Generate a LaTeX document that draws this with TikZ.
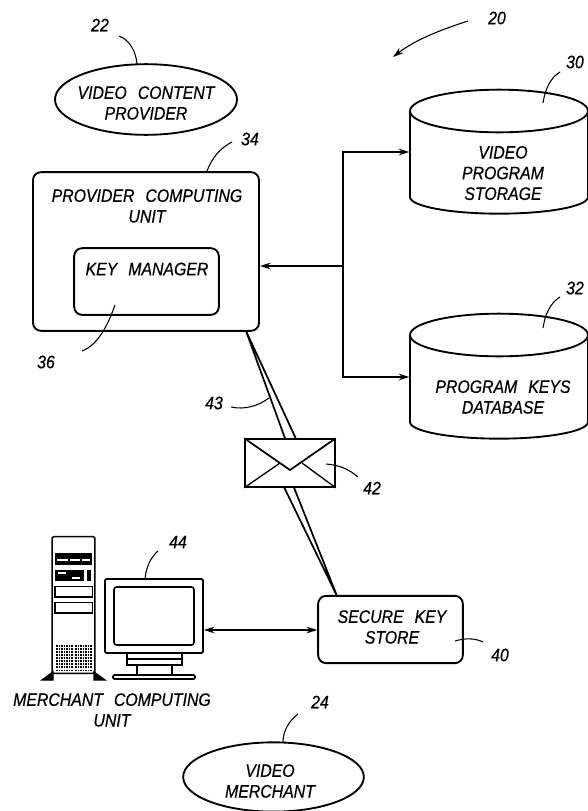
\documentclass[tikz,border=0pt]{standalone}
\usepackage{fontspec}
\setmainfont[FakeStretch=0.88,WordSpace=2.5,ItalicFeatures={FakeBold=0.6}]{Liberation Sans}
\usetikzlibrary{arrows.meta,shapes.geometric}

\begin{document}
\begin{tikzpicture}[x=0.75pt,y=-0.75pt,line width=1pt,>={Stealth[length=8pt,width=5pt]},
    every node/.style={font=\itshape\fontsize{13.5}{15.5}\selectfont,align=center,inner sep=0pt},
    unitbox/.style={draw,rounded corners=6pt,line width=1.4pt},
    oval/.style={draw,ellipse,line width=1.4pt},
    storearea/.style={minimum width=133.5pt,minimum height=60pt},
    drum/.style={line width=1.4pt},
    refnum/.style={font=\itshape\fontsize{13.5}{15.5}\selectfont},
    lead/.style={line width=0.8pt}]
  \useasboundingbox (0,0) rectangle (588,811);

  \node (provider) [oval,minimum width=136.5pt,minimum height=53pt] at (146,99.5) {};
  \node (providertext) at (146,103) {VIDEO CONTENT\\PROVIDER};
  \node (merchant) [oval,minimum width=135.5pt,minimum height=52pt] at (273.5,777) {};
  \node (merchanttext) at (270,781) {VIDEO\\MERCHANT};
  \node (punit) [unitbox,minimum width=169.5pt,minimum height=119pt] at (146,251.5) {};
  \node (punittext) at (147,206) {PROVIDER COMPUTING\\UNIT};
  \node (keyman) [unitbox,minimum width=108.5pt,minimum height=50pt] at (146.5,281.5) {};
  \node (keymantext) at (147,269) {KEY MANAGER};

  % the two drums
  \foreach \ytop/\ybot in {111/197,335/422} {
    \draw[drum] (499,\ytop) ellipse [x radius=66.75pt,y radius=16pt];
    \draw[drum] (410,\ytop) -- (410,\ybot) arc [start angle=180,end angle=360,x radius=66.75pt,y radius=12.5pt] -- (588,\ytop);
  }
  \node (vstore) [storearea] at (499,152) {};
  \node (vstoretext) at (503,173) {VIDEO\\PROGRAM\\STORAGE};
  \node (kstore) [storearea] at (499,377) {};
  \node (kstoretext) at (503,397) {PROGRAM KEYS\\DATABASE};

  \node (secure) [unitbox,minimum width=108.5pt,minimum height=50.5pt] at (390.5,629.5) {};
  \node (securetext) at (392,627) {SECURE KEY\\STORE};
  \node (munittext) at (112,710) {MERCHANT COMPUTING\\UNIT};

  % double line, broken at the envelope
  \coordinate (lineA) at (246,331);
  \coordinate (lineB) at (337,596);
  \coordinate (lineC) at (286,441);
  \coordinate (lineD) at (297,441);
  \coordinate (lineE) at (283,485);
  \coordinate (lineF) at (293,485);
  \draw[line width=1.3pt] (lineA) -- (lineC) (lineA) -- (lineD);
  \draw[line width=1.3pt] (lineE) -- (lineB) (lineF) -- (lineB);

  \node (envelope) [draw,fill=white,line width=1.6pt,minimum width=67pt,minimum height=35.5pt] at (290,463) {};
  \draw[line width=1.3pt] (envelope.north west) -- (290,470) -- (envelope.north east);
  \draw (envelope.south west) -- (280,463);
  \draw (envelope.south east) -- (302,463);

  % merchant computer
  \node (tower) [draw,line width=1.2pt,rounded corners=1pt,minimum width=32pt,minimum height=102.5pt] at (73.5,605) {};
  \draw[fill=black] (42,680) -- (53,672) -- (53,680) -- cycle;
  \draw[fill=black] (105,680) -- (94,672) -- (94,680) -- cycle;
  \fill (55,553) rectangle (92,565);
  \draw[white] (57,560) -- (68,560) (70,560) -- (80,560) (82,560) -- (90,560);
  \fill (55,570) rectangle (84,581);
  \fill (87,570) rectangle (91,581);
  \draw[white,line width=1.2pt] (58,573) -- (66,573) (72,578) -- (80,578);
  \node (slotA) [draw,minimum width=28pt,minimum height=8pt] at (73.5,591.5) {};
  \node (slotB) [draw,minimum width=28pt,minimum height=8pt] at (73.5,607.5) {};
  \foreach \x in {57,59.5,...,72,76,78.5,...,92}
    \draw[line width=1.3pt,densely dotted] (\x,645) -- (\x,672);
  \node (monitor) [draw,line width=1.3pt,rounded corners=1pt,minimum width=73.5pt,minimum height=55.5pt] at (154,616) {};
  \node (screen) [draw,line width=1.2pt,rounded corners=2pt,minimum width=60pt,minimum height=43.5pt] at (154,616) {};
  \draw (127,653) rectangle (182,665);
  \draw (127,659) -- (182,659);
  \draw (137,665) -- (137,675) (172,665) -- (172,675);
  \draw[line width=1.4pt,rounded corners=1pt] (113,675) rectangle (195,679);

  % connections
  \coordinate (busjoin) at (343,266);
  \draw[->] (busjoin) -- (punit.east |- busjoin);
  \draw[->] (busjoin) |- (vstore.west);
  \draw[->] (busjoin) |- (kstore.west);
  \path[<->] (monitor.east |- 0,630) edge (secure.west |- 0,630);

  % reference numerals
  \node (n20) [refnum] at (497,18) {20};
  \node (n22) [refnum] at (100,25) {22};
  \node (n24) [refnum] at (320,702) {24};
  \node (n30) [refnum] at (575,62) {30};
  \node (n32) [refnum] at (575,288) {32};
  \node (n34) [refnum] at (250,139) {34};
  \node (n36) [refnum] at (46,362) {36};
  \node (n40) [refnum] at (500,655) {40};
  \node (n42) [refnum] at (372,488) {42};
  \node (n43) [refnum] at (214,403) {43};
  \node (n44) [refnum] at (178,542) {44};

  \draw[lead,->] (468,21) .. controls (440,30) and (415,40) .. (393,57);
  \draw[lead] (119,36) .. controls (130,40) and (136,52) .. (137,64);
  \draw[lead] (298,714) .. controls (290,720) and (283,730) .. (283,742);
  \draw[lead] (560,72) .. controls (550,78) and (545,90) .. (543,103);
  \draw[lead] (560,297) .. controls (550,303) and (545,315) .. (543,328);
  \draw[lead] (232,142) .. controls (220,148) and (212,158) .. (207,171);
  \draw[lead] (82,351) .. controls (98,345) and (108,325) .. (115,305);
  \draw[lead] (483,642) .. controls (475,638) and (465,638) .. (455,641);
  \draw[lead] (358,477) .. controls (350,470) and (340,465) .. (326,464);
  \draw[lead] (231,407) .. controls (245,410) and (258,406) .. (269,398);
  \draw[lead] (158,551) .. controls (150,558) and (146,568) .. (145,579);
\end{tikzpicture}
\end{document}
